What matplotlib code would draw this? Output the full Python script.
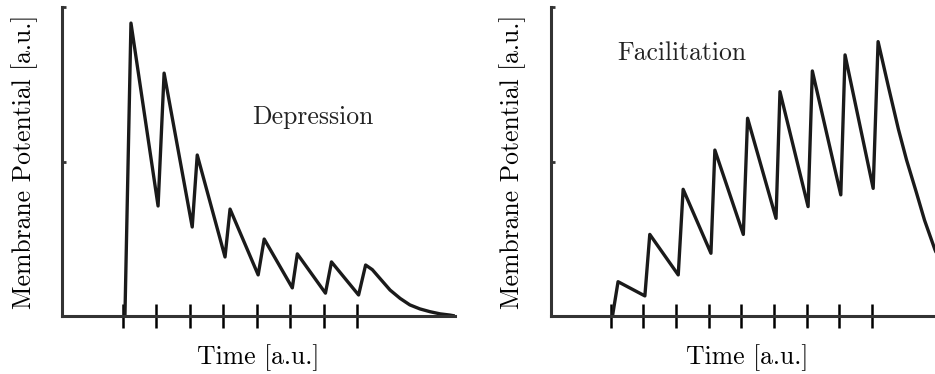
import matplotlib
matplotlib.use("Agg")
import matplotlib.pyplot as plt

plt.rcParams["font.family"] = ["cmr10", "DejaVu Serif"]
plt.rcParams["axes.unicode_minus"] = False

# stimulus times (tick marks)
dep_stim = [0, 1, 2, 3, 4, 5, 6, 7]
fac_stim = [0, 1, 2, 3, 4, 5, 6, 7, 8]

# Depression: onset, peaks, troughs, tail
dep_onset = 0.06
dep_peak_t = [0.24, 1.23, 2.22, 3.20, 4.22, 5.21, 6.23, 7.25]
dep_peak_v = [0.948, 0.786, 0.521, 0.346, 0.249, 0.201, 0.175, 0.165]
dep_trough_t = [1.05, 2.07, 3.05, 4.04, 5.06, 6.05, 7.04]
dep_trough_v = [0.356, 0.288, 0.191, 0.133, 0.091, 0.074, 0.068]
dep_tail_t = [7.45, 7.65, 7.98, 8.28, 8.57, 8.87, 9.17, 9.47, 9.77, 9.92]
dep_tail_v = [0.150, 0.125, 0.084, 0.057, 0.036, 0.023, 0.014, 0.007, 0.003, 0.0]

# Facilitation
fac_onset = 0.06
fac_peak_t = [0.23, 1.20, 2.22, 3.19, 4.19, 5.18, 6.17, 7.17, 8.18]
fac_peak_v = [0.111, 0.264, 0.410, 0.537, 0.640, 0.726, 0.793, 0.845, 0.888]
fac_trough_t = [1.05, 2.07, 3.07, 4.06, 5.06, 6.04, 7.04, 8.03]
fac_trough_v = [0.065, 0.133, 0.203, 0.264, 0.316, 0.354, 0.392, 0.413]
fac_tail_t = [8.50, 8.80, 9.05, 9.35, 9.60, 9.92, 10.1]
fac_tail_v = [0.740, 0.605, 0.505, 0.400, 0.310, 0.214, 0.17]


def trace(onset, peak_t, peak_v, trough_t, trough_v, tail_t, tail_v):
    ts, vs = [onset], [0.0]
    for i in range(len(peak_t)):
        ts.append(peak_t[i])
        vs.append(peak_v[i])
        if i < len(trough_t):
            ts.append(trough_t[i])
            vs.append(trough_v[i])
    return ts + tail_t, vs + tail_v


fig = plt.figure(figsize=(9.35, 3.74), dpi=100)
ax1 = fig.add_axes([62 / 935, 58 / 374, 393 / 935, 309 / 374])
ax2 = fig.add_axes([551 / 935, 58 / 374, 384 / 935, 309 / 374])

panels = [
    (ax1, dep_stim, trace(dep_onset, dep_peak_t, dep_peak_v, dep_trough_t, dep_trough_v, dep_tail_t, dep_tail_v),
     "Depression", (3.85, 0.644), -0.094, 0.5),
    (ax2, fac_stim, trace(fac_onset, fac_peak_t, fac_peak_v, fac_trough_t, fac_trough_v, fac_tail_t, fac_tail_v),
     "Facilitation", (0.22, 0.851), -0.099, 0.512),
]

for ax, stim, (ts, vs), name, pos, ylx, xlx in panels:
    ax.plot(ts, vs, color="#1a1a1a", lw=2.4, solid_joinstyle="round", solid_capstyle="round")
    ax.set_xlim(-1.82, 9.92)
    ax.set_ylim(0, 1)
    for s in ["top", "right"]:
        ax.spines[s].set_visible(False)
    for s in ["left", "bottom"]:
        ax.spines[s].set_linewidth(2.2)
        ax.spines[s].set_color("#333333")
    ax.set_xticks(stim)
    ax.set_xticklabels([])
    ax.set_yticks([0.5, 1.0])
    ax.set_yticklabels([])
    ax.tick_params(axis="x", direction="inout", length=17.5, width=1.8, color="black")
    ax.tick_params(axis="y", direction="in", length=3, width=2, color="#333333")
    ax.set_xlabel("Time [a.u.]", fontsize=18.5, va="center")
    ax.xaxis.set_label_coords(xlx, -0.136)
    ax.set_ylabel("Membrane Potential [a.u.]", fontsize=18.5, va="center")
    ax.yaxis.set_label_coords(ylx, 0.5)
    ax.text(pos[0], pos[1], name, fontsize=18.5, ha="left", va="center", color="#222222")
    ax.patch.set_alpha(0)

fig.savefig("out.png", dpi=100)
